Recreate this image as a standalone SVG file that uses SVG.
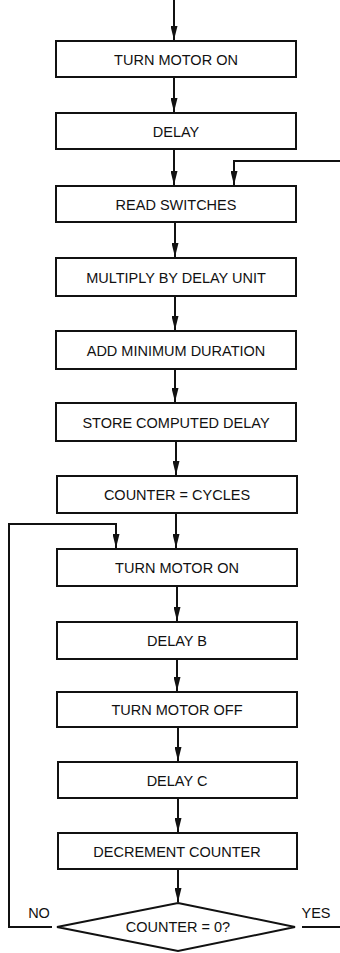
<svg xmlns="http://www.w3.org/2000/svg" width="340" height="953" viewBox="0 0 340 953">
<defs>
<style>
.box{fill:#fff;stroke:#111;stroke-width:2}
.t{font-family:"Liberation Sans",Arial,sans-serif;font-size:14.5px;fill:#111;text-anchor:middle}
.c{fill:none;stroke:#111;stroke-width:2}
</style>
<marker id="arr" viewBox="0 0 14 7" markerWidth="14" markerHeight="7" refX="14" refY="3.5" markerUnits="userSpaceOnUse" orient="auto">
<path d="M0,0 L14,3.5 L0,7 Z" fill="#111"/>
</marker>
</defs>
<rect width="340" height="953" fill="#fff"/>
<g id="connectors">
<line class="c" x1="174" y1="0" x2="174" y2="40" marker-end="url(#arr)"/>
<line class="c" x1="174" y1="77" x2="174" y2="112" marker-end="url(#arr)"/>
<line class="c" x1="174" y1="149" x2="174" y2="185" marker-end="url(#arr)"/>
<polyline class="c" points="340,161 234,161 234,185" marker-end="url(#arr)"/>
<line class="c" x1="175" y1="222" x2="175" y2="257" marker-end="url(#arr)"/>
<line class="c" x1="175" y1="296" x2="175" y2="330" marker-end="url(#arr)"/>
<line class="c" x1="175" y1="369" x2="175" y2="402" marker-end="url(#arr)"/>
<line class="c" x1="176" y1="441" x2="176" y2="475" marker-end="url(#arr)"/>
<line class="c" x1="176" y1="513" x2="176" y2="548" marker-end="url(#arr)"/>
<polyline class="c" points="52,927 9,927 9,524 116,524 116,548" marker-end="url(#arr)"/>
<line class="c" x1="177" y1="586" x2="177" y2="621" marker-end="url(#arr)"/>
<line class="c" x1="177" y1="659" x2="177" y2="691" marker-end="url(#arr)"/>
<line class="c" x1="178" y1="727" x2="178" y2="761" marker-end="url(#arr)"/>
<line class="c" x1="178" y1="798" x2="178" y2="832" marker-end="url(#arr)"/>
<line class="c" x1="178" y1="869" x2="178" y2="902" marker-end="url(#arr)"/>
<line class="c" x1="302" y1="927" x2="340" y2="927"/>
<text class="t" x="39" y="918">NO</text>
<text class="t" x="316" y="918">YES</text>
</g>
<g id="n1"><rect class="box" x="56" y="41" width="240" height="36"/><text class="t" x="176" y="64.5">TURN MOTOR ON</text></g>
<g id="n2"><rect class="box" x="56" y="113" width="240" height="36"/><text class="t" x="176" y="136.5">DELAY</text></g>
<g id="n3"><rect class="box" x="56" y="186" width="240" height="36"/><text class="t" x="176" y="209.5">READ SWITCHES</text></g>
<g id="n4"><rect class="box" x="56" y="258" width="240" height="38"/><text class="t" x="176" y="282.5">MULTIPLY BY DELAY UNIT</text></g>
<g id="n5"><rect class="box" x="56" y="331" width="240" height="38"/><text class="t" x="176" y="355.5">ADD MINIMUM DURATION</text></g>
<g id="n6"><rect class="box" x="56" y="403" width="240" height="38"/><text class="t" x="176" y="427.5">STORE COMPUTED DELAY</text></g>
<g id="n7"><rect class="box" x="57" y="476" width="240" height="37"/><text class="t" x="177" y="500">COUNTER = CYCLES</text></g>
<g id="n8"><rect class="box" x="57" y="549" width="240" height="37"/><text class="t" x="177" y="573">TURN MOTOR ON</text></g>
<g id="n9"><rect class="box" x="57" y="622" width="240" height="37"/><text class="t" x="177" y="646">DELAY B</text></g>
<g id="n10"><rect class="box" x="57" y="692" width="240" height="35"/><text class="t" x="177" y="715">TURN MOTOR OFF</text></g>
<g id="n11"><rect class="box" x="58" y="762" width="239" height="36"/><text class="t" x="177" y="785.5">DELAY C</text></g>
<g id="n12"><rect class="box" x="58" y="833" width="239" height="36"/><text class="t" x="177" y="856.5">DECREMENT COUNTER</text></g>
<g id="n13"><polygon class="box" points="178,903 295,927 178,951 57,927"/><text class="t" x="178" y="932">COUNTER = 0?</text></g>
</svg>
